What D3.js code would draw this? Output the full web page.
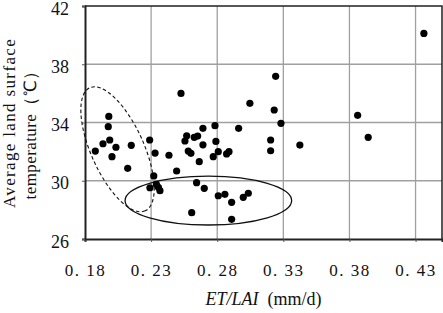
<!DOCTYPE html>
<html>
<head>
<meta charset="utf-8">
<script src="https://cdn.jsdelivr.net/npm/d3@7"></script>
<style>
  body { margin: 0; background: #fff; }
  text { font-family: "Liberation Serif", "Times New Roman", serif; }
</style>
</head>
<body>
<div id="my_dataviz"></div>
<script>
// data
const etLai = [
    0.198, 0.1976, 0.1987, 0.1878, 0.1936, 0.2034, 0.2004, 0.215, 0.2123, 0.2289,
    0.233, 0.2435, 0.2493, 0.232, 0.2291, 0.234, 0.2355, 0.2367,
    0.2526, 0.2783, 0.2692, 0.2962, 0.2569, 0.2556, 0.2626, 0.2652, 0.2692, 0.279,
    0.2581, 0.2601, 0.2808, 0.277, 0.2871, 0.2889, 0.2664,
    0.3047, 0.3231, 0.3282, 0.3204, 0.3204, 0.3425, 0.4363, 0.3242, 0.3862, 0.3942,
    0.2644, 0.2702, 0.2808, 0.2858, 0.2909, 0.2997, 0.3035, 0.2607, 0.2909
]
const lst = [
    34.42, 33.71, 32.80, 32.04, 32.54, 32.30, 31.65, 32.43, 30.85, 32.80,
    31.90, 31.75, 30.67, 30.33, 29.52, 29.75, 29.55, 29.32,
    36.00, 33.78, 33.60, 33.60, 33.09, 32.73, 32.98, 33.07, 32.47, 32.70,
    32.04, 31.88, 32.00, 31.65, 31.84, 32.00, 31.31,
    35.32, 34.86, 33.94, 32.80, 32.06, 32.45, 40.12, 37.17, 34.49, 32.98,
    29.87, 29.48, 28.97, 29.07, 28.52, 28.86, 29.14, 27.81, 27.35
]
const xTicks = [0.18, 0.23, 0.28, 0.33, 0.38, 0.43]
const yTicks = [26, 30, 34, 38, 42]

const width = 443
const height = 313
const margin = {top: 6, right: 1, bottom: 74, left: 85}

const svg = d3.select("#my_dataviz")
  .append("svg")
    .attr("width", width)
    .attr("height", height)

const x = d3.scaleLinear().domain([0.18, 0.45]).range([margin.left, width - margin.right])
const y = d3.scaleLinear().domain([26, 42]).range([height - margin.bottom, margin.top])

// grid
svg.append("g")
  .selectAll("line")
  .data(xTicks.slice(1))
  .join("line")
    .attr("x1", d => x(d)).attr("x2", d => x(d))
    .attr("y1", y(26)).attr("y2", y(42))
    .attr("stroke", "#a0a0a0")
    .attr("stroke-width", 1.3)
svg.append("g")
  .selectAll("line")
  .data(yTicks.slice(1, -1))
  .join("line")
    .attr("x1", x(0.18)).attr("x2", x(0.45))
    .attr("y1", d => y(d)).attr("y2", d => y(d))
    .attr("stroke", "#a0a0a0")
    .attr("stroke-width", 1.3)

// top and right border
svg.append("path")
    .attr("d", `M${x(0.18)},${y(42)}H${x(0.45)}V${y(26)}`)
    .attr("fill", "none")
    .attr("stroke", "#222")
    .attr("stroke-width", 1.5)

// axes
const xAxis = svg.append("g")
    .attr("transform", `translate(0,${y(26)})`)
    .call(d3.axisBottom(x).tickValues(xTicks).tickSize(3).tickFormat(d => d3.format(".2f")(d).replace(".", ". ")))
const yAxis = svg.append("g")
    .attr("transform", `translate(${x(0.18)},0)`)
    .call(d3.axisLeft(y).tickValues(yTicks).tickSize(3).tickFormat(d3.format("d")))

svg.selectAll(".domain").attr("stroke", "#222").attr("stroke-width", 2)
svg.selectAll(".tick line").attr("stroke", "#555")
xAxis.selectAll("text")
    .attr("font-size", 17)
    .attr("letter-spacing", 1.5)
    .attr("fill", "#111")
    .attr("y", 25)
    .style("white-space", "pre")
yAxis.selectAll("text")
    .attr("font-size", 18)
    .attr("fill", "#111")
    .attr("x", -16)
    .attr("dy", "0.45em")
svg.selectAll(".tick text").attr("font-family", "Liberation Serif, serif")

// ellipses drawn round the two groups
const dashC = [0.2046, 32.16]
svg.append("ellipse")
    .attr("transform", `translate(${x(dashC[0])},${y(dashC[1])}) rotate(65.8)`)
    .attr("rx", 67.5)
    .attr("ry", 26.4)
    .attr("fill", "none")
    .attr("stroke", "#111")
    .attr("stroke-width", 1.1)
    .attr("stroke-dasharray", "3.5,2.5")

const solidC = [0.2733, 28.64]
svg.append("ellipse")
    .attr("cx", x(solidC[0]))
    .attr("cy", y(solidC[1]))
    .attr("rx", x(solidC[0] + 0.063) - x(solidC[0]))
    .attr("ry", y(solidC[1] - 1.68) - y(solidC[1]))
    .attr("fill", "none")
    .attr("stroke", "#111")
    .attr("stroke-width", 1.3)

// points
svg.append("g")
  .selectAll("circle")
  .data(d3.zip(etLai, lst))
  .join("circle")
    .attr("cx", d => x(d[0]))
    .attr("cy", d => y(d[1]))
    .attr("r", 3.6)
    .attr("fill", "#000")

// axis titles
const xt = svg.append("text")
    .attr("x", (x(0.18) + x(0.45)) / 2)
    .attr("y", 305)
    .attr("text-anchor", "middle")
    .attr("font-size", 18)
    .attr("fill", "#111")
xt.append("tspan").attr("font-style", "italic").text("ET/LAI")
xt.append("tspan").text("\u00a0\u00a0(mm/d)")

svg.append("text")
    .attr("transform", "translate(15,123) rotate(-90)")
    .attr("text-anchor", "middle")
    .attr("font-size", 17)
    .attr("letter-spacing", 1.35)
    .attr("fill", "#111")
    .text("Average land surface")
svg.append("text")
    .attr("transform", "translate(36,131) rotate(-90)")
    .attr("text-anchor", "middle")
    .attr("font-size", 17)
    .attr("letter-spacing", 0.4)
    .attr("fill", "#111")
    .text("temperature（℃）")
</script>
</body>
</html>
